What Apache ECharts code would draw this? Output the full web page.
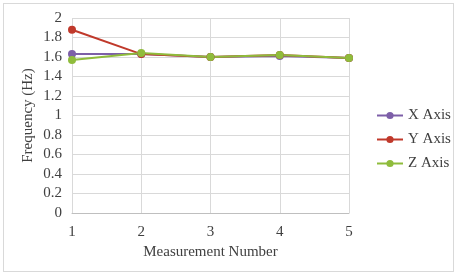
<!DOCTYPE html>
<html>
<head>
<meta charset="utf-8">
<script src="https://cdn.jsdelivr.net/npm/echarts@6/dist/echarts.min.js"></script>
<style>
  html, body { margin: 0; padding: 0; background: #fff; }
  #chart { width: 459px; height: 277px; }
  #frame { position: absolute; left: 3px; top: 3px; width: 451px; height: 269px; border: 1px solid #d9d9d9; box-sizing: border-box; pointer-events: none; }
</style>
</head>
<body>
<div id="chart"></div>
<div id="frame"></div>
<script>
  // measurement numbers
  const measurements = [1, 2, 3, 4, 5]
  const xAxisFreq = [1.63, 1.63, 1.60, 1.61, 1.59]
  const yAxisFreq = [1.88, 1.63, 1.60, 1.62, 1.59]
  const zAxisFreq = [1.57, 1.64, 1.60, 1.62, 1.59]
  const seriesNames = ['X Axis', 'Y Axis', 'Z Axis']
  const colors = ['#7d5fa8', '#c0392b', '#8fbc3c']

  const font = 'Liberation Serif'
  const pairs = arr => measurements.map((m, i) => [m, arr[i]])

  const chart = echarts.init(document.getElementById('chart'))
  const mkSeries = (name, data, color) => ({
    name,
    type: 'line',
    data: pairs(data),
    symbol: 'circle',
    symbolSize: 8,
    lineStyle: { color, width: 2 },
    itemStyle: { color },
    animation: false
  })

  chart.setOption({
    animation: false,
    textStyle: { fontFamily: font },
    grid: { left: 72, right: 110, top: 18, bottom: 64 },
    legend: {
      orient: 'vertical',
      left: 371,
      top: 103,
      itemGap: 9,
      itemWidth: 26,
      itemHeight: 9,
      data: seriesNames,
      textStyle: { fontFamily: font, fontSize: 15, color: '#404040' }
    },
    xAxis: {
      type: 'value',
      min: 1,
      max: 5,
      interval: 1,
      name: 'Measurement Number',
      nameLocation: 'middle',
      nameGap: 30,
      nameTextStyle: { fontFamily: font, fontSize: 15, color: '#404040' },
      axisLine: { show: true, onZero: false, lineStyle: { color: '#bfbfbf' } },
      axisTick: { show: false },
      axisLabel: { fontFamily: font, fontSize: 15, color: '#404040', margin: 12 },
      splitLine: { show: true, lineStyle: { color: '#d9d9d9' } }
    },
    yAxis: {
      type: 'value',
      min: 0,
      max: 2,
      interval: 0.2,
      name: 'Frequency (Hz)',
      nameLocation: 'middle',
      nameGap: 36,
      nameMoveOverlap: false,
      nameTextStyle: { fontFamily: font, fontSize: 15, color: '#404040' },
      axisLine: { show: false },
      axisTick: { show: false },
      axisLabel: { fontFamily: font, fontSize: 15, color: '#404040', margin: 10 },
      splitLine: { show: true, lineStyle: { color: '#d9d9d9' } }
    },
    series: [
      mkSeries(seriesNames[0], xAxisFreq, colors[0]),
      mkSeries(seriesNames[1], yAxisFreq, colors[1]),
      mkSeries(seriesNames[2], zAxisFreq, colors[2])
    ]
  })
</script>
</body>
</html>
